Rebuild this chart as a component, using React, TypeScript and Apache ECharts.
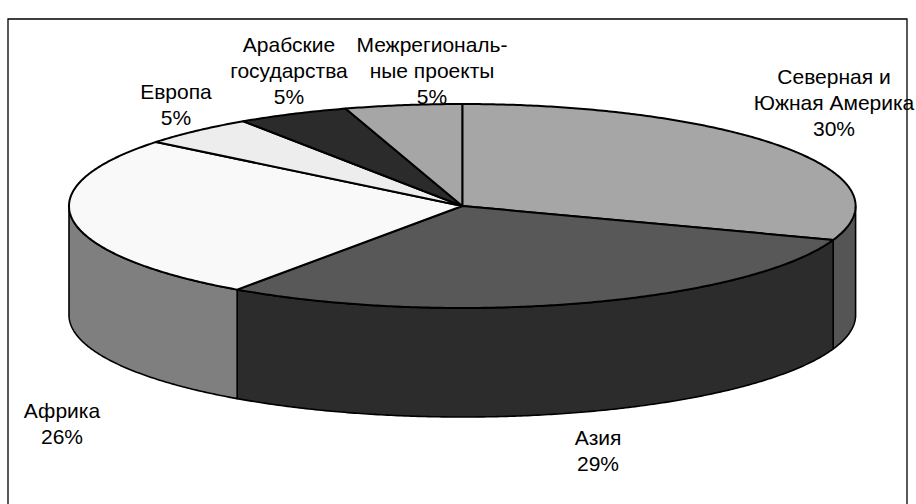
import React, { useEffect, useRef } from "react";
import * as echarts from "echarts";

// ---- data ----
const CATEGORIES = [
  "Северная и\nЮжная Америка",
  "Азия",
  "Африка",
  "Европа",
  "Арабские\nгосударства",
  "Межрегиональ-\nные проекты",
];
const VALUES = [30.4, 29.3, 26.1, 4.8, 4.6, 4.8];

// ---- styles / layout ----
const TOP_COLORS = ["#a6a6a6", "#585858", "#f9f9f9", "#ededed", "#2b2b2b", "#a6a6a6"];
const SIDE_COLORS = ["#555555", "#2c2c2c", "#7f7f7f", "#777777", "#151515", "#555555"];
const LABEL_POS: [number, number][] = [
  [834, 102],
  [598, 450],
  [62, 423],
  [176, 104],
  [289, 70],
  [432, 70],
];
const CX = 462.3;
const CY = 206;
const RX = 393.3;
const RY = 102;
const DEPTH = 109;
const FONT = "'Liberation Sans', Arial, sans-serif";

function arc(a0: number, a1: number, dy: number): number[][] {
  const pts: number[][] = [];
  const n = Math.max(2, Math.ceil(Math.abs(a1 - a0) * 2));
  for (let k = 0; k <= n; k++) {
    const a = ((a0 + ((a1 - a0) * k) / n) * Math.PI) / 180;
    pts.push([CX + RX * Math.sin(a), CY - RY * Math.cos(a) + dy]);
  }
  return pts;
}

export default function App() {
  const ref = useRef<HTMLDivElement>(null);
  useEffect(() => {
    if (!ref.current) return;
    const chart = echarts.init(ref.current, null, { renderer: "svg" });
    const total = VALUES.reduce((s, v) => s + v, 0);
    const cum: number[] = [0];
    VALUES.forEach((v, i) => cum.push(cum[i] + v));

    chart.setOption({
      animation: false,
      backgroundColor: "#ffffff",
      graphic: [
        {
          type: "rect",
          shape: { x: 8, y: 19, width: 899, height: 520 },
          style: { fill: "none", stroke: "#000", lineWidth: 1.3 },
          silent: true,
        },
      ],
      series: [
        {
          type: "custom",
          coordinateSystem: "none",
          data: VALUES.map((v) => [v]),
          renderItem: (params: any, api: any) => {
            const i = params.dataIndex;
            const start = (cum[i] / total) * 360;
            const end = (cum[i + 1] / total) * 360;
            const children: any[] = [];
            const ws = Math.max(start, 90);
            const we = Math.min(end, 270);
            if (we > ws) {
              const pts = [...arc(ws, we, 0), ...arc(we, ws, DEPTH)];
              children.push({
                type: "polygon",
                z2: 1,
                shape: { points: pts },
                style: { fill: SIDE_COLORS[i], stroke: "#000", lineWidth: 1.6, lineJoin: "round" },
              });
            }
            children.push({
              type: "polygon",
              z2: 2,
              shape: { points: [[CX, CY], ...arc(start, end, 0)] },
              style: { fill: TOP_COLORS[i], stroke: "#000", lineWidth: 2, lineJoin: "round" },
            });
            const pct = Math.round((api.value(0) / total) * 100) + "%";
            children.push({
              type: "text",
              z2: 3,
              style: {
                text: CATEGORIES[i] + "\n" + pct,
                x: LABEL_POS[i][0],
                y: LABEL_POS[i][1],
                align: "center",
                verticalAlign: "middle",
                fontSize: 21,
                lineHeight: 26,
                fontFamily: FONT,
                fill: "#000",
              },
            });
            return { type: "group", children };
          },
        },
      ],
    });
    return () => chart.dispose();
  }, []);
  return (
    <div
      ref={ref}
      style={{ position: "fixed", left: 0, top: 0, width: 916, height: 504 }}
    />
  );
}
